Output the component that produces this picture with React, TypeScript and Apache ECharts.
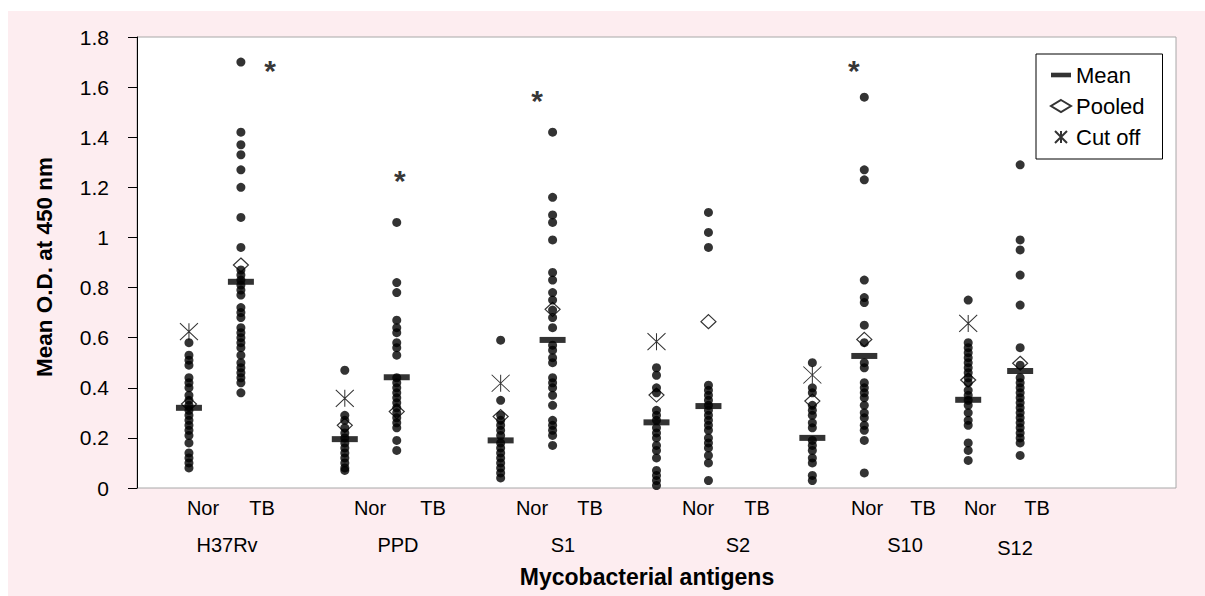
import React, { useEffect, useRef } from "react";
import * as echarts from "echarts";

// ---- data (Mean O.D. at 450 nm) ----
const antigens = ["H37Rv", "PPD", "S1", "S2", "S10", "S12"];
const subGroups = ["Nor", "TB"];

const h37rvNor = [0.58, 0.53, 0.51, 0.49, 0.44, 0.42, 0.40, 0.37, 0.35, 0.33, 0.31, 0.29, 0.27, 0.25, 0.23, 0.21, 0.18, 0.14, 0.12, 0.10, 0.08];
const h37rvTB = [1.70, 1.42, 1.37, 1.33, 1.27, 1.20, 1.08, 0.96, 0.87, 0.85, 0.83, 0.81, 0.79, 0.77, 0.72, 0.70, 0.68, 0.64, 0.62, 0.60, 0.58, 0.56, 0.53, 0.50, 0.48, 0.46, 0.44, 0.42, 0.38];
const ppdNor = [0.47, 0.29, 0.27, 0.24, 0.22, 0.20, 0.18, 0.16, 0.14, 0.12, 0.10, 0.08, 0.07];
const ppdTB = [1.06, 0.82, 0.78, 0.67, 0.64, 0.62, 0.58, 0.56, 0.53, 0.44, 0.42, 0.40, 0.38, 0.36, 0.34, 0.32, 0.30, 0.28, 0.26, 0.24, 0.19, 0.15];
const s1Nor = [0.59, 0.35, 0.29, 0.27, 0.25, 0.23, 0.21, 0.18, 0.16, 0.14, 0.12, 0.10, 0.08, 0.06, 0.04];
const s1TB = [1.42, 1.16, 1.09, 1.06, 0.99, 0.86, 0.83, 0.78, 0.75, 0.71, 0.68, 0.64, 0.57, 0.55, 0.52, 0.50, 0.44, 0.42, 0.40, 0.37, 0.33, 0.27, 0.25, 0.23, 0.21, 0.17];
const s2Nor = [0.48, 0.45, 0.40, 0.38, 0.31, 0.29, 0.27, 0.24, 0.22, 0.20, 0.17, 0.15, 0.12, 0.07, 0.05, 0.03, 0.01];
const s2TB = [1.10, 1.02, 0.96, 0.41, 0.39, 0.37, 0.35, 0.33, 0.31, 0.29, 0.27, 0.25, 0.23, 0.20, 0.18, 0.16, 0.13, 0.10, 0.03];
const s10Nor = [0.50, 0.40, 0.38, 0.33, 0.31, 0.29, 0.26, 0.24, 0.19, 0.17, 0.15, 0.12, 0.10, 0.05, 0.03];
const s10TB = [1.56, 1.27, 1.23, 0.83, 0.76, 0.74, 0.65, 0.58, 0.50, 0.48, 0.42, 0.40, 0.38, 0.36, 0.33, 0.30, 0.28, 0.25, 0.23, 0.19, 0.06];
const s12Nor = [0.75, 0.58, 0.56, 0.54, 0.52, 0.50, 0.48, 0.46, 0.44, 0.42, 0.39, 0.37, 0.35, 0.33, 0.30, 0.27, 0.25, 0.18, 0.15, 0.11];
const s12TB = [1.29, 0.99, 0.95, 0.85, 0.73, 0.56, 0.49, 0.44, 0.42, 0.40, 0.38, 0.36, 0.34, 0.32, 0.30, 0.28, 0.26, 0.24, 0.22, 0.20, 0.18, 0.13];

const norMeans = [0.32, 0.195, 0.19, 0.262, 0.20, 0.352];
const tbMeans = [0.823, 0.442, 0.591, 0.327, 0.527, 0.467];
const norPooled = [0.335, 0.25, 0.285, 0.371, 0.347, 0.431];
const tbPooled = [0.89, 0.305, 0.713, 0.664, 0.593, 0.498];
const norCutoff = [0.624, 0.358, 0.418, 0.584, 0.451, 0.657];

// significance marks: [x position in axis units, y value]
const sigMarks = [[2.56, 1.68], [5.06, 1.24], [7.7, 1.56], [13.8, 1.68]];

const yTicks = { min: 0, max: 1.8, interval: 0.2 };

// ---- layout (pixels, relative to chart box) ----
const subLabelX = [[195, 254], [362, 425], [524, 582], [690, 749], [859, 915], [972, 1029]];
const groupLabelPos = [[219, 534], [390, 534], [555, 534], [730, 534], [897, 534], [1007, 537]];

const FONT = "'Liberation Sans', Arial, sans-serif";

const groupsNor = [h37rvNor, ppdNor, s1Nor, s2Nor, s10Nor, s12Nor];
const groupsTB = [h37rvTB, ppdTB, s1TB, s2TB, s10TB, s12TB];

const xNor = (i: number) => 1 + 3 * i;
const xTB = (i: number) => 2 + 3 * i;

const CUT_PATH = "path://M0,0L10,10M10,0L0,10M5,0L5,10";
const MEAN_ICON = "path://M0,0L26,0L26,6L0,6Z";

export default function App() {
  const ref = useRef<HTMLDivElement>(null);
  useEffect(() => {
    if (!ref.current) return;
    const chart = echarts.init(ref.current, null, { renderer: "svg" });

    const dots: number[][] = [];
    groupsNor.forEach((arr, i) => arr.forEach((v) => dots.push([xNor(i), v])));
    groupsTB.forEach((arr, i) => arr.forEach((v) => dots.push([xTB(i), v])));
    const means: number[][] = [];
    norMeans.forEach((v, i) => means.push([xNor(i), v]));
    tbMeans.forEach((v, i) => means.push([xTB(i), v]));
    const pooled: number[][] = [];
    norPooled.forEach((v, i) => pooled.push([xNor(i), v]));
    tbPooled.forEach((v, i) => pooled.push([xTB(i), v]));
    const cut: number[][] = norCutoff.map((v, i) => [xNor(i), v]);

    const graphic: any[] = [];
    antigens.forEach((name, i) => {
      subGroups.forEach((sg, j) => {
        graphic.push({
          type: "text",
          x: subLabelX[i][j],
          y: 497,
          style: { text: sg, fontSize: 20, fontFamily: FONT, fill: "#000", align: "center", verticalAlign: "middle" },
        });
      });
      graphic.push({
        type: "text",
        x: groupLabelPos[i][0],
        y: groupLabelPos[i][1],
        style: { text: name, fontSize: 20, fontFamily: FONT, fill: "#000", align: "center", verticalAlign: "middle" },
      });
    });
    graphic.push({
      type: "text",
      x: 639,
      y: 566,
      style: { text: "Mycobacterial antigens", fontSize: 23, fontWeight: "bold", fontFamily: FONT, fill: "#000", align: "center", verticalAlign: "middle" },
    });
    graphic.push({
      type: "text",
      x: 36,
      y: 256,
      rotation: Math.PI / 2,
      style: { text: "Mean O.D. at 450 nm", fontSize: 22.5, fontWeight: "bold", fontFamily: FONT, fill: "#000", align: "center", verticalAlign: "middle" },
    });

    chart.setOption({
      animation: false,
      backgroundColor: "#fdedf0",
      textStyle: { fontFamily: FONT },
      grid: {
        left: 129, top: 26, right: 29, bottom: 108,
        show: true, backgroundColor: "#ffffff", borderColor: "#a8a8a8", borderWidth: 1,
      },
      xAxis: { type: "value", min: 0, max: 20, show: false },
      yAxis: {
        type: "value",
        min: yTicks.min, max: yTicks.max, interval: yTicks.interval,
        axisLine: { show: true, lineStyle: { color: "#000", width: 1 } },
        axisTick: { show: true, length: 9, lineStyle: { color: "#000" } },
        axisLabel: { fontSize: 21, color: "#000", margin: 28, fontFamily: FONT },
        splitLine: { show: false },
      },
      legend: {
        data: [
          { name: "Mean", icon: MEAN_ICON },
          { name: "Pooled" },
          { name: "Cut off" },
        ],
        orient: "vertical",
        left: 1028, top: 43,
        padding: [10, 18, 11, 14],
        itemGap: 9,
        itemWidth: 20,
        itemHeight: 12,
        backgroundColor: "#fff",
        borderColor: "#000",
        borderWidth: 1,
        borderRadius: 0,
        selectedMode: false,
        textStyle: { fontSize: 22, color: "#000", fontFamily: FONT },
      },
      graphic,
      series: [
        {
          name: "Values", type: "scatter", data: dots, symbol: "circle", symbolSize: 9,
          itemStyle: { color: "#000" }, clip: false, silent: true, z: 2,
        },
        {
          name: "Mean", type: "scatter", data: means, symbol: "rect", symbolSize: [26, 6],
          symbolKeepAspect: true, itemStyle: { color: "#000" }, clip: false, z: 3,
        },
        {
          name: "Pooled", type: "scatter", data: pooled, symbol: "diamond", symbolSize: [15, 14],
          symbolKeepAspect: true,
          itemStyle: { color: "rgba(0,0,0,0)", borderColor: "#000", borderWidth: 1.2 }, clip: false, z: 4,
        },
        {
          name: "Cut off", type: "scatter", data: cut, symbol: CUT_PATH, symbolSize: [18, 17],
          itemStyle: { color: "none", borderColor: "#000", borderWidth: 1 }, clip: false, z: 4,
        },
        {
          name: "sig", type: "scatter", data: sigMarks, symbolSize: 0, clip: false, silent: true,
          label: {
            show: true, position: "inside", formatter: "*", fontSize: 30, fontWeight: "bold",
            color: "#000", fontFamily: FONT, offset: [0, 3.5],
          },
        },
      ],
    });
    return () => chart.dispose();
  }, []);

  return (
    <div
      ref={ref}
      style={{ position: "fixed", left: 8, top: 11, width: 1197, height: 585 }}
    />
  );
}
